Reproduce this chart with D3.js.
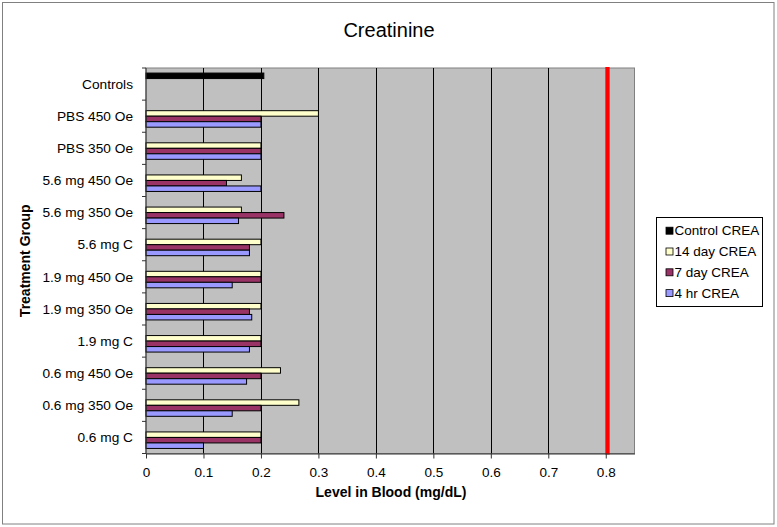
<!DOCTYPE html>
<html>
<head>
<meta charset="utf-8">
<script src="https://cdnjs.cloudflare.com/ajax/libs/d3/7.8.5/d3.min.js"></script>
<style>
  html, body { margin: 0; padding: 0; background: #fff; }
  svg { display: block; font-family: Arial, "Liberation Sans", sans-serif; }
</style>
</head>
<body>
<svg id="chart" width="777" height="527"></svg>
<script>
// ---- data ----
const categories = ["Controls", "PBS 450 Oe", "PBS 350 Oe", "5.6 mg 450 Oe", "5.6 mg 350 Oe", "5.6 mg C",
  "1.9 mg 450 Oe", "1.9 mg 350 Oe", "1.9 mg C", "0.6 mg 450 Oe", "0.6 mg 350 Oe", "0.6 mg C"];
const seriesNames = ["Control CREA", "14 day CREA", "7 day CREA", "4 hr CREA"];
const seriesColors = ["#000000", "#FFFFCC", "#993366", "#9999FF"];
const controlCREA = [0.205, null, null, null, null, null, null, null, null, null, null, null];
const day14CREA  = [null, 0.30, 0.20, 0.166, 0.166, 0.20, 0.20, 0.20, 0.20, 0.234, 0.266, 0.20];
const day7CREA   = [null, 0.20, 0.20, 0.14, 0.24, 0.18, 0.20, 0.18, 0.20, 0.20, 0.20, 0.20];
const hr4CREA    = [null, 0.20, 0.20, 0.20, 0.161, 0.18, 0.15, 0.184, 0.18, 0.175, 0.15, 0.10];
const xTicks = [0, 0.1, 0.2, 0.3, 0.4, 0.5, 0.6, 0.7, 0.8];
const xMax = 0.85;
const referenceLine = 0.803;
const title = "Creatinine";
const xTitle = "Level in Blood (mg/dL)";
const yTitle = "Treatment Group";

const seriesValues = [controlCREA, day14CREA, day7CREA, hr4CREA];

// ---- layout ----
const svg = d3.select("#chart");
const W = 777, H = 527;
const plot = { left: 146, right: 634.5, top: 68, bottom: 453.5 };

// outer border
svg.append("rect").attr("x", 2.5).attr("y", 2.5).attr("width", W - 5.5).attr("height", H - 5.5)
  .attr("fill", "#fff").attr("stroke", "#808080").attr("stroke-width", 1);

const x = d3.scaleLinear().domain([0, xMax]).range([plot.left, plot.right]);
const y = d3.scaleBand().domain(categories).range([plot.top, plot.bottom]).padding(0);
const ySub = d3.scaleBand().domain(seriesNames).range([0, y.bandwidth()]).paddingInner(0).paddingOuter(0.92);

// plot background
svg.append("rect").attr("x", plot.left).attr("y", plot.top)
  .attr("width", plot.right - plot.left).attr("height", plot.bottom - plot.top)
  .attr("fill", "#C0C0C0").attr("stroke", "#808080").attr("stroke-width", 1);

// gridlines
svg.append("g").selectAll("line").data(xTicks.filter(d => d > 0)).join("line")
  .attr("x1", d => Math.round(x(d)) + 0.5).attr("x2", d => Math.round(x(d)) + 0.5)
  .attr("y1", plot.top).attr("y2", plot.bottom)
  .attr("stroke", "#000").attr("stroke-width", 1);

// bars
const barData = [];
seriesNames.forEach((s, si) => {
  categories.forEach((c, ci) => {
    const v = seriesValues[si][ci];
    if (v != null) barData.push({ s, si, c, v });
  });
});
svg.append("g").selectAll("rect").data(barData).join("rect")
  .attr("x", x(0))
  .attr("y", d => y(d.c) + ySub(d.s))
  .attr("width", d => x(d.v) - x(0))
  .attr("height", ySub.bandwidth())
  .attr("fill", d => seriesColors[d.si])
  .attr("stroke", "#000")
  .attr("stroke-width", 1);

// reference line
svg.append("line")
  .attr("x1", x(referenceLine)).attr("x2", x(referenceLine))
  .attr("y1", plot.top - 1).attr("y2", plot.bottom + 1)
  .attr("stroke", "#FF0000").attr("stroke-width", 4.3);

// x axis
const xAxis = d3.axisBottom(x).tickValues(xTicks).tickFormat(d => d === 0 ? "0" : d3.format(".1f")(d))
  .tickSizeInner(5).tickSizeOuter(0).tickPadding(9);
const gx = svg.append("g").attr("transform", `translate(0,${plot.bottom})`).call(xAxis);
gx.select(".domain").attr("stroke", "#333");
gx.selectAll(".tick line").attr("stroke", "#333");
gx.selectAll("text").attr("font-size", 13.5).attr("fill", "#000")
  .attr("font-family", "Arial, 'Liberation Sans', sans-serif");

// y axis: ticks at band boundaries
const yBoundaries = categories.map(c => y(c)).concat([plot.bottom]);
svg.append("line").attr("x1", plot.left).attr("x2", plot.left).attr("y1", plot.top).attr("y2", plot.bottom)
  .attr("stroke", "#333");
svg.append("g").selectAll("line").data(yBoundaries).join("line")
  .attr("x1", plot.left - 4).attr("x2", plot.left)
  .attr("y1", d => d).attr("y2", d => d)
  .attr("stroke", "#333");
svg.append("g").selectAll("text").data(categories).join("text")
  .attr("x", 133)
  .attr("y", d => y(d) + y.bandwidth() / 2)
  .attr("dy", "0.35em")
  .attr("text-anchor", "end")
  .attr("font-size", 13.7)
  .text(d => d);

// titles
svg.append("text").attr("x", 389).attr("y", 37).attr("text-anchor", "middle")
  .attr("font-size", 20).text(title);
svg.append("text").attr("x", 391).attr("y", 497).attr("text-anchor", "middle")
  .attr("font-size", 14).attr("font-weight", "bold").text(xTitle);
svg.append("text").attr("transform", `translate(30,${(plot.top + plot.bottom) / 2}) rotate(-90)`)
  .attr("text-anchor", "middle").attr("font-size", 14).attr("font-weight", "bold").text(yTitle);

// legend
const leg = svg.append("g");
leg.append("rect").attr("x", 656.5).attr("y", 217.5).attr("width", 106).attr("height", 89)
  .attr("fill", "#fff").attr("stroke", "#000").attr("stroke-width", 1);
const legItems = leg.selectAll("g.item").data(seriesNames).join("g").attr("class", "item")
  .attr("transform", (d, i) => `translate(0,${230.7 + i * 20.8})`);
legItems.append("rect").attr("x", 666).attr("y", -3.5).attr("width", 7).attr("height", 7)
  .attr("fill", (d, i) => seriesColors[i]).attr("stroke", "#000").attr("stroke-width", 0.8);
legItems.append("text").attr("x", 674.5).attr("y", 0).attr("dy", "0.35em")
  .attr("font-size", 13.5).text(d => d);
</script>
</body>
</html>
